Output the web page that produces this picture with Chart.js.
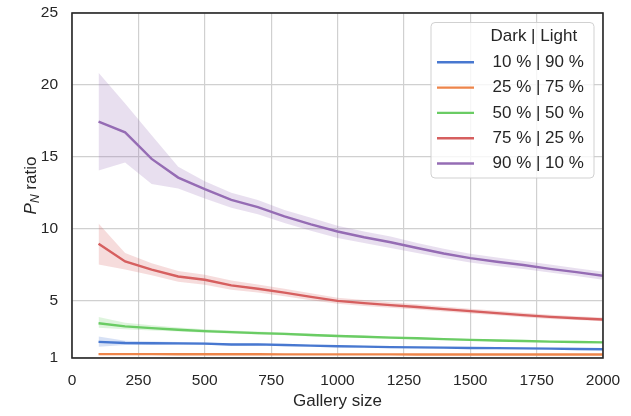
<!DOCTYPE html>
<html>
<head>
<meta charset="utf-8">
<script src="https://cdn.jsdelivr.net/npm/chart.js@4.4.1/dist/chart.umd.min.js"></script>
<style>
html, body { margin: 0; padding: 0; background: #fff; }
#wrap { width: 631px; height: 416px; position: relative; }
</style>
</head>
<body>
<div id="wrap"><canvas id="chart" width="631" height="416"></canvas></div>
<script>
// --- data ---
const gallerySizes = [100, 200, 300, 400, 500, 600, 700, 800, 900, 1000,
                      1100, 1200, 1300, 1400, 1500, 1600, 1700, 1800, 1900, 2000];
const xTicks = [0, 250, 500, 750, 1000, 1250, 1500, 1750, 2000];
const yTicks = [1, 5, 10, 15, 20, 25];

const legendTitle = 'Dark | Light';
const seriesLabels = ['10 % | 90 %', '25 % | 75 %', '50 % | 50 %', '75 % | 25 %', '90 % | 10 %'];
const seriesColors = ['#4878d0', '#ee854a', '#6acc64', '#d65f5f', '#956cb4'];

const blueMean = [2.12, 2.04, 2.03, 2.02, 2.00, 1.94, 1.95, 1.90, 1.86, 1.82, 1.79, 1.76, 1.74, 1.72, 1.70, 1.69, 1.67, 1.65, 1.63, 1.61];
const blueHigh = [2.50, 2.20, 2.14, 2.11, 2.08, 2.01, 2.01, 1.96, 1.91, 1.87, 1.84, 1.80, 1.78, 1.76, 1.74, 1.72, 1.70, 1.68, 1.66, 1.64];
const blueLow  = [1.78, 1.90, 1.92, 1.93, 1.92, 1.87, 1.89, 1.84, 1.81, 1.77, 1.74, 1.72, 1.70, 1.68, 1.66, 1.66, 1.64, 1.62, 1.60, 1.58];

const orangeMean = [1.27, 1.27, 1.27, 1.26, 1.26, 1.26, 1.26, 1.25, 1.25, 1.25, 1.25, 1.25, 1.24, 1.24, 1.24, 1.24, 1.24, 1.24, 1.24, 1.24];
const orangeHigh = [1.32, 1.31, 1.30, 1.29, 1.29, 1.29, 1.28, 1.28, 1.28, 1.27, 1.27, 1.27, 1.26, 1.26, 1.26, 1.26, 1.26, 1.26, 1.26, 1.26];
const orangeLow  = [1.23, 1.23, 1.24, 1.23, 1.23, 1.23, 1.24, 1.23, 1.23, 1.23, 1.23, 1.23, 1.22, 1.22, 1.22, 1.22, 1.22, 1.22, 1.22, 1.22];

const greenMean = [3.42, 3.20, 3.08, 2.97, 2.87, 2.80, 2.73, 2.68, 2.60, 2.53, 2.48, 2.42, 2.37, 2.31, 2.26, 2.22, 2.18, 2.14, 2.11, 2.09];
const greenHigh = [3.86, 3.45, 3.28, 3.12, 3.00, 2.92, 2.84, 2.78, 2.69, 2.61, 2.55, 2.49, 2.43, 2.37, 2.32, 2.27, 2.23, 2.19, 2.16, 2.13];
const greenLow  = [3.10, 3.00, 2.92, 2.84, 2.76, 2.70, 2.63, 2.59, 2.52, 2.46, 2.41, 2.36, 2.31, 2.26, 2.21, 2.17, 2.13, 2.10, 2.07, 2.05];

const redMean = [8.95, 7.72, 7.15, 6.67, 6.44, 6.05, 5.82, 5.55, 5.25, 4.97, 4.82, 4.68, 4.55, 4.40, 4.26, 4.12, 3.98, 3.86, 3.77, 3.68];
const redHigh = [10.35, 8.30, 7.60, 7.05, 6.80, 6.40, 6.12, 5.82, 5.50, 5.20, 5.03, 4.88, 4.74, 4.58, 4.43, 4.28, 4.14, 4.01, 3.91, 3.82];
const redLow  = [7.50, 7.15, 6.75, 6.30, 6.10, 5.75, 5.55, 5.30, 5.02, 4.77, 4.62, 4.49, 4.37, 4.23, 4.10, 3.97, 3.84, 3.72, 3.64, 3.56];

const purpleMean = [17.45, 16.70, 14.85, 13.55, 12.75, 12.00, 11.50, 10.85, 10.30, 9.80, 9.40, 9.05, 8.65, 8.27, 7.95, 7.70, 7.47, 7.20, 6.97, 6.72];
const purpleHigh = [20.85, 18.70, 16.50, 14.30, 13.30, 12.50, 12.00, 11.30, 10.75, 10.20, 9.80, 9.45, 9.00, 8.60, 8.25, 8.00, 7.75, 7.50, 7.25, 7.00];
const purpleLow  = [14.05, 14.60, 13.10, 12.80, 12.10, 11.45, 11.00, 10.40, 9.85, 9.35, 9.00, 8.65, 8.30, 7.95, 7.65, 7.40, 7.20, 6.95, 6.70, 6.45];

const means = [blueMean, orangeMean, greenMean, redMean, purpleMean];
const highs = [blueHigh, orangeHigh, greenHigh, redHigh, purpleHigh];
const lows  = [blueLow, orangeLow, greenLow, redLow, purpleLow];

// --- styling ---
const FONT = "'Liberation Sans', Arial, sans-serif";
const TEXT = '#262626';
const GRID = '#d0d0d0';

function toPoints(values) {
    return values.map((v, i) => ({ x: gallerySizes[i], y: v }));
}

function withAlpha(hex, a) {
    const n = parseInt(hex.slice(1), 16);
    return `rgba(${(n >> 16) & 255}, ${(n >> 8) & 255}, ${n & 255}, ${a})`;
}

// no extra room for overhanging tick labels, the layout padding decides
function noScalePadding(s) {
    s.paddingTop = 0;
    s.paddingBottom = 0;
    s.paddingLeft = 0;
    s.paddingRight = 0;
}

// purple first so it ends up on top (dataset 0 is drawn last)
const datasets = [];
for (let i = seriesLabels.length - 1; i >= 0; i--) {
    const c = seriesColors[i];
    datasets.push({
        label: seriesLabels[i],
        data: toPoints(means[i]),
        borderColor: c,
        borderWidth: 2.4,
        pointRadius: 0,
        tension: 0,
        fill: false
    });
    datasets.push({
        label: seriesLabels[i] + ' high',
        data: toPoints(highs[i]),
        borderColor: 'transparent',
        borderWidth: 0,
        pointRadius: 0,
        tension: 0,
        backgroundColor: withAlpha(c, 0.22),
        fill: '+1'
    });
    datasets.push({
        label: seriesLabels[i] + ' low',
        data: toPoints(lows[i]),
        borderColor: 'transparent',
        borderWidth: 0,
        pointRadius: 0,
        tension: 0,
        fill: false
    });
}

// spines, y title with subscript, legend box
const decorations = {
    id: 'decorations',
    afterDatasetsDraw(chart) {
        const { ctx, chartArea: a } = chart;
        ctx.save();
        ctx.strokeStyle = TEXT;
        ctx.lineWidth = 1.6;
        ctx.strokeRect(a.left, a.top, a.right - a.left, a.bottom - a.top);
        ctx.restore();
    },
    afterDraw(chart) {
        const { ctx, chartArea: a } = chart;

        // y axis title: P_N ratio
        ctx.save();
        ctx.translate(31, (a.top + a.bottom) / 2);
        ctx.rotate(-Math.PI / 2);
        ctx.fillStyle = TEXT;
        ctx.textBaseline = 'middle';
        ctx.textAlign = 'left';
        const big = `italic 17px ${FONT}`, sub = `italic 12px ${FONT}`, reg = `17px ${FONT}`;
        ctx.font = big; const wP = ctx.measureText('P').width;
        ctx.font = sub; const wN = ctx.measureText('N').width;
        ctx.font = reg; const wR = ctx.measureText(' ratio').width;
        let x = -(wP + wN + wR) / 2;
        ctx.font = big; ctx.fillText('P', x, 0); x += wP;
        ctx.font = sub; ctx.fillText('N', x, 5); x += wN;
        ctx.font = reg; ctx.fillText(' ratio', x, 0);
        ctx.restore();

        // legend
        const box = { left: 431, top: 22.5, width: 163, height: 155.5 };
        ctx.save();
        ctx.beginPath();
        ctx.roundRect(box.left, box.top, box.width, box.height, 4);
        ctx.fillStyle = 'rgba(255, 255, 255, 0.8)';
        ctx.fill();
        ctx.strokeStyle = 'rgba(204, 204, 204, 0.9)';
        ctx.lineWidth = 1;
        ctx.stroke();

        ctx.font = `17px ${FONT}`;
        ctx.fillStyle = TEXT;
        ctx.textBaseline = 'middle';
        ctx.textAlign = 'left';
        const textX = 492.5;
        ctx.fillText(legendTitle, 490.5, 36.5);
        seriesLabels.forEach((label, i) => {
            const y = 62.3 + i * 25.3;
            ctx.strokeStyle = seriesColors[i];
            ctx.lineWidth = 2.4;
            ctx.beginPath();
            ctx.moveTo(437, y);
            ctx.lineTo(474, y);
            ctx.stroke();
            ctx.fillText(label, textX, y);
        });
        ctx.restore();
    }
};

new Chart(document.getElementById('chart'), {
    type: 'line',
    data: { datasets },
    options: {
        responsive: false,
        animation: false,
        devicePixelRatio: 1,
        layout: { padding: { left: 0, top: 13, right: 28, bottom: 0 } },
        plugins: {
            legend: { display: false },
            tooltip: { enabled: false }
        },
        scales: {
            x: {
                type: 'linear',
                min: 0,
                max: 2000,
                afterBuildTicks: (s) => { s.ticks = xTicks.map(v => ({ value: v })); },
                afterFit: (s) => { s.height = 58; noScalePadding(s); },
                grid: { color: GRID, lineWidth: 1.2, drawTicks: false },
                border: { display: false },
                ticks: {
                    padding: 13,
                    color: TEXT,
                    maxRotation: 0,
                    callback: (v) => String(v),
                    font: { family: FONT, size: 15.5 }
                },
                title: {
                    display: true,
                    text: 'Gallery size',
                    color: TEXT,
                    padding: { top: 0, bottom: 4 },
                    font: { family: FONT, size: 17 }
                }
            },
            y: {
                type: 'linear',
                min: 1,
                max: 25,
                afterBuildTicks: (s) => { s.ticks = yTicks.map(v => ({ value: v })); },
                afterFit: (s) => { s.width = 72; noScalePadding(s); },
                grid: { color: GRID, lineWidth: 1.2, drawTicks: false },
                border: { display: false },
                ticks: {
                    padding: 14,
                    color: TEXT,
                    callback: (v) => String(v),
                    font: { family: FONT, size: 15.5 }
                }
            }
        }
    },
    plugins: [decorations]
});
</script>
</body>
</html>
